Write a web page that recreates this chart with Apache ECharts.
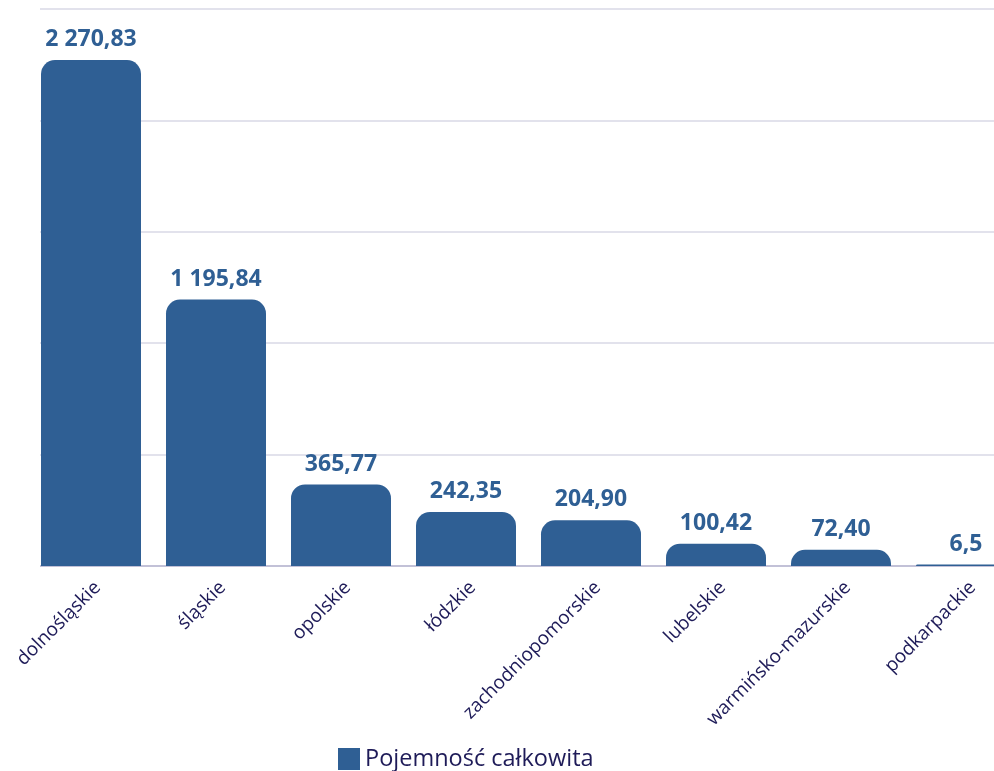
<!DOCTYPE html>
<html>
<head>
<meta charset="utf-8">
<script src="https://cdn.jsdelivr.net/npm/echarts@6/dist/echarts.min.js"></script>
<style>
  html, body { margin: 0; padding: 0; background: #fff; }
  #main { width: 994px; height: 771px; }
</style>
</head>
<body>
<div id="main"></div>
<script>
// województwa
var regions = ['dolnośląskie', 'śląskie', 'opolskie', 'łódzkie', 'zachodniopomorskie', 'lubelskie', 'warmińsko-mazurskie', 'podkarpackie'];
var capacity = [2270.83, 1195.84, 365.77, 242.35, 204.90, 100.42, 72.40, 6.5];
var valueLabels = ['2 270,83', '1 195,84', '365,77', '242,35', '204,90', '100,42', '72,40', '6,5'];
var seriesName = 'Pojemność całkowita';

var chart = echarts.init(document.getElementById('main'));

var option = {
  animation: false,
  backgroundColor: '#ffffff',
  grid: { left: 28.5, top: 9, width: 1000, bottom: 205, outerBoundsMode: 'none', containLabel: false },
  legend: {
    data: [seriesName],
    left: 333,
    top: 742,
    itemWidth: 22,
    itemHeight: 22,
    itemGap: 6,
    icon: 'rect',
    textStyle: { fontFamily: 'Open Sans', fontSize: 23.5, color: '#1E1B58' }
  },
  xAxis: {
    type: 'category',
    data: regions,
    axisTick: { show: false },
    axisLine: { lineStyle: { color: '#B8B6CF', width: 1.5 } },
    axisLabel: {
      rotate: 45,
      margin: 12,
      interval: 0,
      verticalAlign: 'top',
      fontFamily: 'Open Sans',
      fontSize: 19,
      color: '#1E1B58'
    }
  },
  yAxis: {
    type: 'value',
    min: 0,
    max: 2500,
    interval: 500,
    axisLabel: { show: false },
    axisLine: { show: false },
    axisTick: { show: false },
    splitLine: { lineStyle: { color: '#D9D8E6', width: 1.5 } }
  },
  series: [{
    name: seriesName,
    type: 'bar',
    barWidth: 100,
    data: capacity,
    itemStyle: { color: '#2F5F94', borderRadius: [14, 14, 0, 0] },
    label: {
      show: true,
      position: 'top',
      distance: 9,
      fontFamily: 'Open Sans',
      fontWeight: 'bold',
      fontSize: 23,
      color: '#2F5F94',
      formatter: function (p) { return valueLabels[p.dataIndex]; }
    }
  }],
  graphic: [{
    type: 'rect',
    shape: { x: 0, y: 0, width: 40, height: 570 },
    style: { fill: '#ffffff' },
    z: 1
  }]
};

chart.setOption(option);
</script>
</body>
</html>
